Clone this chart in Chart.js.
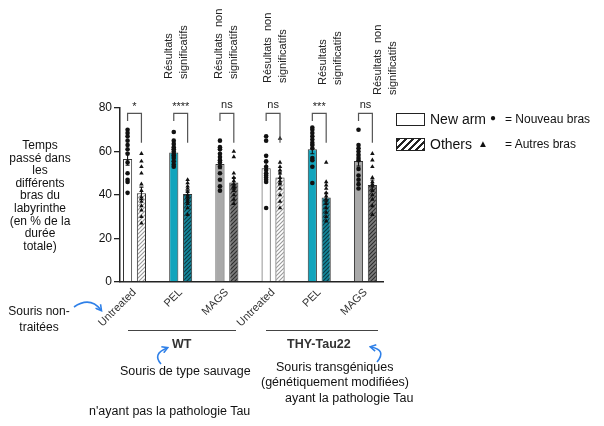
<!DOCTYPE html>
<html>
<head>
<meta charset="utf-8">
<script src="https://cdn.jsdelivr.net/npm/chart.js@4.4.1/dist/chart.umd.min.js"></script>
<style>
    body { margin: 0; background: #fff; }
    #wrap { position: relative; width: 604px; height: 426px; font-family: "Liberation Sans", Arial, sans-serif; color: #111; overflow: hidden; }
    #c { position: absolute; left: 0; top: 0; }
    .t { position: absolute; white-space: nowrap; font-size: 12px; }
    .rot { position: absolute; white-space: pre; font-size: 11px; line-height: 15px; transform-origin: 0 0; transform: rotate(-90deg); color: #222; }
    .box { position: absolute; width: 27px; height: 11px; border: 1px solid #222; }
    .rule { position: absolute; height: 0; border-top: 1px solid #444; }
    svg { position: absolute; left: 0; top: 0; }
</style>
</head>
<body>
<div id="wrap">
    <canvas id="c" width="604" height="426"></canvas>

    <!-- labels above the groups -->
    <div class="rot" style="left:161px; top:79px;">Résultats
significatifs</div>
    <div class="rot" style="left:211px; top:79px;">Résultats  non
significatifs</div>
    <div class="rot" style="left:260px; top:83px;">Résultats  non
significatifs</div>
    <div class="rot" style="left:315px; top:85px;">Résultats
significatifs</div>
    <div class="rot" style="left:370px; top:95px;">Résultats  non
significatifs</div>

    <!-- legend -->
    <div class="box" style="left:396px; top:113px; background:#fff;"></div>
    <div class="t" style="left:430px; top:111px; font-size:14px;">New arm</div>
    <div class="t" style="left:490px; top:112px; font-size:10px;">●</div>
    <div class="t" style="left:505px; top:112px;">= Nouveau bras</div>
    <div class="box" style="left:396px; top:138px; background:repeating-linear-gradient(135deg, #222 0 2.5px, #fff 2.5px 5px);"></div>
    <div class="t" style="left:430px; top:136px; font-size:14px;">Others</div>
    <div class="t" style="left:478px; top:138px; font-size:10px;">▲</div>
    <div class="t" style="left:505px; top:137px;">= Autres bras</div>

    <!-- y axis title -->
    <div class="t" style="left:0; top:139px; width:80px; text-align:center; line-height:12.6px; white-space:normal;">Temps<br>passé dans<br>les<br>différents<br>bras du<br>labyrinthe<br>(en % de la<br>durée<br>totale)</div>

    <div class="t" style="left:0; top:303px; width:78px; text-align:center; line-height:16px;">Souris non-<br>traitées</div>

    <!-- group rules and names -->
    <div class="rule" style="left:128px; top:330px; width:108px;"></div>
    <div class="rule" style="left:266px; top:330px; width:112px;"></div>
    <div class="t" style="left:172px; top:337px; font-size:12.5px; font-weight:bold; color:#333;">WT</div>
    <div class="t" style="left:287px; top:337px; font-size:12.5px; font-weight:bold; color:#333;">THY-Tau22</div>
    <div class="t" style="left:120px; top:364px; font-size:12.5px;">Souris de type sauvage</div>
    <div class="t" style="left:276px; top:360px; font-size:12.5px;">Souris transgéniques</div>
    <div class="t" style="left:261px; top:375px; font-size:12.5px;">(génétiquement modifiées)</div>
    <div class="t" style="left:285px; top:391px; font-size:12.5px;">ayant la pathologie Tau</div>
    <div class="t" style="left:89px; top:404px; font-size:12.5px;">n'ayant pas la pathologie Tau</div>

    <svg width="604" height="426">
        <defs>
            <marker id="ah" viewBox="0 0 10 10" refX="7" refY="5" markerWidth="5" markerHeight="5" orient="auto-start-reverse">
                <path d="M1,1 L8,5 L1,9" fill="none" stroke="#2f80e8" stroke-width="2"/>
            </marker>
        </defs>
        <path d="M74,307 Q90,296 101,310" fill="none" stroke="#2f80e8" stroke-width="1.6" marker-end="url(#ah)"/>
        <path d="M161,364 Q152,354 167,348" fill="none" stroke="#2f80e8" stroke-width="1.6" marker-end="url(#ah)"/>
        <path d="M377,362 Q387,350 371,347" fill="none" stroke="#2f80e8" stroke-width="1.6" marker-end="url(#ah)"/>
    </svg>
</div>

<script>
// groups along the x axis (WT: 0-2, THY-Tau22: 3-5)
const groups = ['Untreated', 'PEL', 'MAGS', 'Untreated', 'PEL', 'MAGS'];
const yTicks = [0, 20, 40, 60, 80];

// mean time (%) and SEM
const newArmMean = [56.5, 59.5, 54.3, 52.3, 61.0, 55.6];
const newArmSem = [2.8, 1.4, 2.2, 2.6, 2.0, 2.3];
const othersMean = [40.8, 40.5, 45.7, 48.0, 38.9, 44.6];
const othersSem = [2.8, 1.4, 2.2, 2.6, 2.0, 2.3];

// individual mice
const newArmPoints = [
    [70, 68.5, 67, 65, 63, 61, 59, 55, 50, 47, 46, 41],
    [69, 65, 63.5, 62, 61, 60, 59, 58, 57, 55.5, 54, 53],
    [65, 62, 61, 59, 57.5, 56, 55, 53, 50, 47, 44, 42],
    [67, 65, 58, 55.5, 53, 51.5, 50, 49, 48, 46, 47, 34],
    [71, 70, 68.5, 67, 65.5, 64, 63, 61.5, 57, 56, 53, 45.5],
    [70, 63, 61.5, 60, 58.5, 57, 56, 52, 49, 47, 45, 43]
];
const othersPoints = [
    [59, 55.5, 53, 50, 45, 42, 39, 37, 35, 33, 30, 27],
    [47, 45.5, 44, 43, 41.5, 40, 39, 38, 37, 36, 34, 31],
    [60, 57.5, 50, 48, 46.5, 45, 44, 43, 42, 40, 38, 36],
    [66, 55, 53, 51.5, 50, 48, 46.5, 45, 43, 40, 37, 34],
    [55, 46, 44.5, 43, 41, 39.5, 38, 36, 34, 32, 30, 28],
    [59, 56, 53, 48, 46, 45, 44, 42, 40, 38, 35, 31]
];

const sigLabels = ['*', '****', 'ns', 'ns', '***', 'ns'];
const bracketTop = 77.5;
const bracketLeftEnd = 74;
const bracketRightEnd = 64;

const SHIFT = 0.15; // half a bar slot, in x units

const canvas = document.getElementById('c');
const ctx0 = canvas.getContext('2d');

function hatch(bg, fg) {
    const p = document.createElement('canvas');
    p.width = 4; p.height = 4;
    const g = p.getContext('2d');
    g.fillStyle = bg;
    g.fillRect(0, 0, 4, 4);
    g.strokeStyle = fg;
    g.lineWidth = 1.1;
    g.beginPath();
    g.moveTo(0, 4); g.lineTo(4, 0);
    g.moveTo(-1, 1); g.lineTo(1, -1);
    g.moveTo(3, 5); g.lineTo(5, 3);
    g.stroke();
    return ctx0.createPattern(p, 'repeat');
}

const TEAL = '#12a4bc';
const GREY = '#a9a9a9';
const newColors = ['#ffffff', TEAL, GREY, '#ffffff', TEAL, GREY];
const hWhite = hatch('#ffffff', '#9a9a9a');
const hTeal = hatch('#14879b', '#0b3a44');
const hGrey = hatch('#7c7c7c', '#2e2e2e');
const otherColors = [hWhite, hTeal, hGrey, hWhite, hTeal, hGrey];

const overlay = {
    id: 'overlay',
    afterDatasetDraw(chart, args) {
        if (args.index > 1) return;
        const means = args.index === 0 ? newArmMean : othersMean;
        const sems = args.index === 0 ? newArmSem : othersSem;
        const off = args.index === 0 ? -SHIFT : SHIFT;
        const { ctx, scales: { x, y } } = chart;
        ctx.save();
        ctx.strokeStyle = '#111';
        ctx.lineWidth = 1.1;
        means.forEach((m, i) => {
            const px = x.getPixelForValue(i + off);
            const t = y.getPixelForValue(m + sems[i]);
            const b = y.getPixelForValue(m - sems[i]);
            ctx.beginPath();
            ctx.moveTo(px, t); ctx.lineTo(px, b);
            ctx.moveTo(px - 2, t); ctx.lineTo(px + 2, t);
            ctx.moveTo(px - 2, b); ctx.lineTo(px + 2, b);
            ctx.stroke();
        });
        ctx.restore();
    },
    afterDatasetsDraw(chart) {
        const { ctx, scales: { x, y } } = chart;
        ctx.save();
        ctx.strokeStyle = '#555';
        ctx.lineWidth = 1.2;
        ctx.fillStyle = '#222';
        ctx.font = '11px "Liberation Sans", Arial, sans-serif';
        ctx.textAlign = 'center';
        ctx.textBaseline = 'middle';
        sigLabels.forEach((s, i) => {
            const l = x.getPixelForValue(i - SHIFT);
            const r = x.getPixelForValue(i + SHIFT);
            const top = y.getPixelForValue(bracketTop);
            ctx.beginPath();
            ctx.moveTo(l, y.getPixelForValue(bracketLeftEnd));
            ctx.lineTo(l, top);
            ctx.lineTo(r, top);
            ctx.lineTo(r, y.getPixelForValue(bracketRightEnd));
            ctx.stroke();
            ctx.fillText(s, (l + r) / 2, y.getPixelForValue(81.5) + (s === 'ns' ? 0 : 2));
        });
        ctx.restore();
    }
};

new Chart(canvas, {
    type: 'bar',
    data: {
        datasets: [
            {
                label: 'New arm',
                data: newArmMean.map((v, i) => ({ x: i, y: v })),
                backgroundColor: newColors,
                borderColor: '#333',
                borderWidth: 1,
                categoryPercentage: 0.6,
                barPercentage: 0.66,
                order: 2
            },
            {
                label: 'Others',
                data: othersMean.map((v, i) => ({ x: i, y: v })),
                backgroundColor: otherColors,
                borderColor: '#333',
                borderWidth: 1,
                categoryPercentage: 0.6,
                barPercentage: 0.66,
                order: 2
            },
            {
                type: 'scatter',
                label: 'New arm points',
                data: newArmPoints.flatMap((arr, i) => arr.map(v => ({ x: i - SHIFT, y: v }))),
                pointStyle: 'circle',
                pointRadius: 2.3,
                backgroundColor: '#111',
                borderColor: '#111',
                borderWidth: 0,
                order: 1
            },
            {
                type: 'scatter',
                label: 'Others points',
                data: othersPoints.flatMap((arr, i) => arr.map(v => ({ x: i + SHIFT, y: v }))),
                pointStyle: 'triangle',
                pointRadius: 2.6,
                backgroundColor: '#111',
                borderColor: '#111',
                borderWidth: 0,
                order: 1
            }
        ]
    },
    options: {
        responsive: false,
        animation: false,
        layout: { padding: { top: 108, right: 221, left: 0, bottom: 0 } },
        plugins: {
            legend: { display: false },
            tooltip: { enabled: false }
        },
        scales: {
            x: {
                type: 'linear',
                offset: false,
                min: -0.314,
                max: 5.38,
                grid: { display: false, drawTicks: false, offset: false },
                border: { display: true, color: '#222', width: 1.5 },
                afterBuildTicks: s => { s.ticks = groups.map((g, i) => ({ value: i })); },
                afterFit: s => { s.height = 144; },
                ticks: {
                    autoSkip: false,
                    minRotation: 45,
                    maxRotation: 45,
                    padding: 4,
                    color: '#333',
                    font: { size: 11, family: '"Liberation Sans", Arial, sans-serif' },
                    callback: v => groups[v]
                }
            },
            y: {
                min: 0,
                max: 80,
                afterBuildTicks: s => { s.ticks = yTicks.map(v => ({ value: v })); },
                afterFit: s => { s.width = 120; },
                grid: { display: true, drawOnChartArea: false, drawTicks: true, tickLength: 6, color: '#222', lineWidth: 1.3 },
                border: { display: true, color: '#222', width: 1.5 },
                ticks: {
                    padding: 2,
                    color: '#111',
                    font: { size: 12, family: '"Liberation Sans", Arial, sans-serif' }
                }
            }
        }
    },
    plugins: [overlay]
});
</script>
</body>
</html>
